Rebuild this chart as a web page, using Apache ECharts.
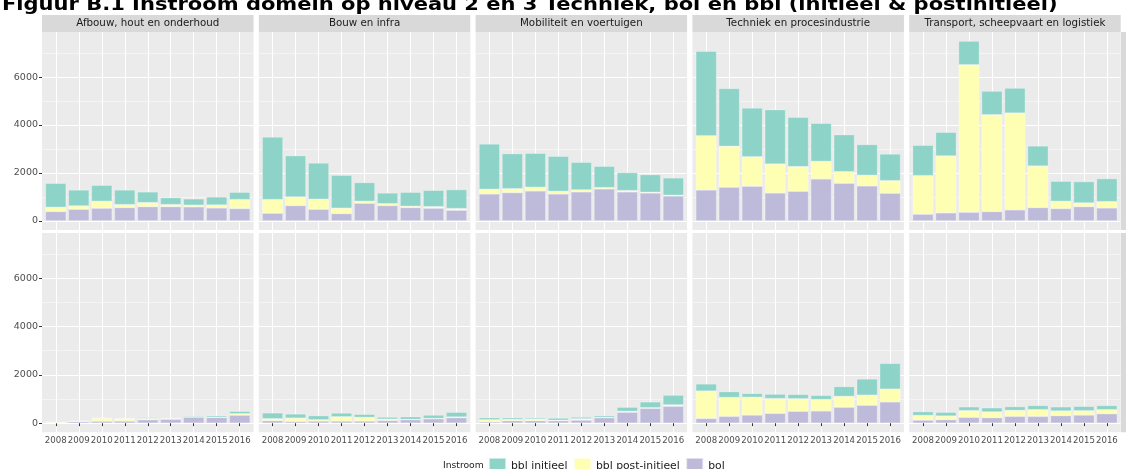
<!DOCTYPE html>
<html>
<head>
<meta charset="utf-8">
<script src="https://cdn.jsdelivr.net/npm/echarts@6/dist/echarts.min.js"></script>
<style>
html,body{margin:0;padding:0;background:#fff;}
#chart{width:1126px;height:469px;}
</style>
</head>
<body>
<div id="chart"></div>
<script>
const titleText = 'Figuur B.1 Instroom domein op niveau 2 en 3 Techniek, bol en bbl (initieel & postinitieel)';
const years = ['2008','2009','2010','2011','2012','2013','2014','2015','2016'];
const domains = ['Afbouw, hout en onderhoud','Bouw en infra','Mobiliteit en voertuigen','Techniek en procesindustrie','Transport, scheepvaart en logistiek'];
const seriesNames = ['bol','bbl post-initieel','bbl initieel'];
const legendOrder = ['bbl initieel','bbl post-initieel','bol'];
const seriesColors = ['#bebada','#ffffb3','#8dd3c7'];
const yTicks = [0,2000,4000,6000];
const yMinorTicks = [1000,3000,5000,7000];

// Top row (per domain, per year)
const bolRow1 = [
  [390,485,530,555,595,595,585,540,515],
  [320,640,485,305,735,640,555,530,445],
  [1125,1180,1250,1125,1210,1335,1210,1165,1040],
  [1290,1405,1445,1165,1235,1750,1570,1460,1155],
  [280,335,360,390,460,555,515,595,540]
];
const postRow1 = [
  [180,140,290,125,170,85,70,125,375],
  [570,360,420,225,85,80,55,65,70],
  [195,165,155,110,85,55,55,30,30],
  [2265,1705,1235,1210,1030,735,485,445,525],
  [1610,2375,6155,4040,4040,1735,305,155,265]
];
const initRow1 = [
  [1000,665,665,610,445,290,265,335,305],
  [2610,1720,1510,1375,780,445,585,680,790],
  [1890,1460,1415,1460,1150,890,750,735,725],
  [3525,2415,2030,2265,2055,1585,1540,1280,1110],
  [1265,985,985,985,1040,835,835,890,960]
];
// Bottom row
const bolRow2 = [
  [10,70,80,85,140,165,250,235,330],
  [100,70,85,85,85,110,140,180,225],
  [55,100,100,100,125,225,450,615,700],
  [195,280,335,405,490,505,660,740,880],
  [125,140,240,225,280,280,310,335,390]
];
const postRow2 = [
  [30,10,120,100,55,15,15,10,60],
  [85,140,55,180,155,55,15,15,30],
  [85,55,70,20,55,15,40,25,55],
  [1135,785,740,615,520,475,450,420,530],
  [195,155,280,240,250,280,195,180,170]
];
const initRow2 = [
  [5,5,20,20,40,20,45,60,100],
  [240,170,170,155,125,85,110,140,195],
  [85,70,55,90,70,70,170,240,405],
  [295,240,155,180,180,170,405,670,1065],
  [155,155,155,170,155,170,170,180,170]
];

const rows = [[bolRow1, postRow1, initRow1],[bolRow2, postRow2, initRow2]];

const panelLeft0 = 42, panelStep = 216.8, panelWidth = 211.5;
const rowTops = [32, 233], rowHeights = [198, 199.3];
const yMin = -380, yMax = 7880;
const xPositions = years.map((_, i) => i + 1);
const xMin = 0.4, xMax = 9.6; // ggplot discrete expansion 0.6
const font = '"DejaVu Sans", sans-serif';

const grid = [], xAxis = [], yAxis = [], series = [], graphic = [];
for (let r = 0; r < 2; r++) {
  for (let c = 0; c < 5; c++) {
    const left = panelLeft0 + c * panelStep;
    // background panel grid (grid lines, ticks, labels)
    const bgIndex = grid.length;
    grid.push({
      left: left, top: rowTops[r], width: panelWidth, height: rowHeights[r],
      show: true, backgroundColor: '#ebebeb', borderWidth: 0, containLabel: false, outerBoundsMode: 'none'
    });
    xAxis.push({
      type: 'value', gridIndex: bgIndex, min: xMin, max: xMax,
      axisLine: { show: false },
      axisTick: { show: r === 1, customValues: xPositions, length: 3, lineStyle: { color: '#333', width: 1 } },
      axisLabel: { show: r === 1, customValues: xPositions, formatter: v => years[Math.round(v) - 1], fontSize: 8.6, color: '#4d4d4d', margin: 3.5, fontFamily: font },
      splitLine: { show: true, lineStyle: { color: '#ffffff', width: 1 } }
    });
    yAxis.push({
      type: 'value', gridIndex: bgIndex, min: yMin, max: yMax,
      axisLine: { show: false },
      axisTick: { show: c === 0, customValues: yTicks, length: 3, lineStyle: { color: '#333', width: 1 } },
      axisLabel: { show: c === 0, customValues: yTicks, formatter: v => String(v), fontSize: 9.5, color: '#4d4d4d', margin: 4, fontFamily: font },
      splitLine: { show: true, lineStyle: { color: '#ffffff', width: 1 } }
    });
    // minor grid lines
    xAxis.push({
      type: 'value', gridIndex: bgIndex, min: xMin, max: xMax, show: false
    });
    yAxis.push({
      type: 'value', gridIndex: bgIndex, min: yMin, max: yMax, position: 'left',
      axisLine: { show: false },
      axisTick: { show: false, customValues: yMinorTicks },
      axisLabel: { show: false, customValues: yMinorTicks },
      splitLine: { show: true, lineStyle: { color: '#f8f8f8', width: 0.7 } }
    });
    // bar grid: category band spanning 0.5..9.5 of the panel range
    const barIndex = grid.length;
    grid.push({
      left: left + (0.5 - xMin) / (xMax - xMin) * panelWidth,
      top: rowTops[r],
      width: 9 / (xMax - xMin) * panelWidth,
      height: rowHeights[r],
      show: false, containLabel: false, outerBoundsMode: 'none'
    });
    const xi = xAxis.length, yi = yAxis.length;
    xAxis.push({
      type: 'category', gridIndex: barIndex, data: years, boundaryGap: true,
      axisLine: { show: false }, axisTick: { show: false }, axisLabel: { show: false }, splitLine: { show: false }
    });
    yAxis.push({
      type: 'value', gridIndex: barIndex, min: yMin, max: yMax,
      axisLine: { show: false }, axisTick: { show: false }, axisLabel: { show: false }, splitLine: { show: false }
    });
    for (let s = 0; s < 3; s++) {
      series.push({
        type: 'bar', name: seriesNames[s], xAxisIndex: xi, yAxisIndex: yi,
        stack: 'g' + barIndex, barWidth: '90%',
        data: rows[r][s][c],
        itemStyle: { color: seriesColors[s], borderColor: 'rgba(255,255,255,0.55)', borderWidth: 0.5 },
        emphasis: { disabled: true }, silent: true
      });
    }
  }
  // right row strip (cut off)
  graphic.push({ type: 'rect', shape: { x: 1121, y: rowTops[r], width: 10, height: rowHeights[r] }, style: { fill: '#d9d9d9' }, silent: true });
}
for (let c = 0; c < 5; c++) {
  const x = panelLeft0 + c * panelStep;
  graphic.push({ type: 'rect', shape: { x: x, y: 15, width: panelWidth, height: 17 }, style: { fill: '#d9d9d9' }, silent: true });
  graphic.push({ type: 'text', x: x + panelWidth / 2, y: 23.8, style: { text: domains[c], font: '10.3px ' + font, fill: '#1a1a1a', align: 'center', verticalAlign: 'middle' }, silent: true });
}
graphic.push({ type: 'text', x: 2, y: 5.4, scaleX: 1.236, style: { text: titleText, font: 'bold 17px ' + font, fill: '#000', align: 'left', verticalAlign: 'middle' }, silent: true });
graphic.push({ type: 'text', x: 443, y: 465.5, style: { text: 'Instroom', font: '9.2px ' + font, fill: '#1a1a1a', align: 'left', verticalAlign: 'middle' }, silent: true });

const chart = echarts.init(document.getElementById('chart'), null, { renderer: 'canvas' });
chart.setOption({
  animation: false,
  backgroundColor: '#ffffff',
  grid, xAxis, yAxis, series, graphic,
  legend: {
    data: legendOrder, left: 488, top: 457, padding: 0, itemWidth: 17, itemHeight: 17, itemGap: 5.5,
    icon: 'rect', selectedMode: false,
    textStyle: { fontSize: 10.8, color: '#1a1a1a', fontFamily: font }
  }
});
</script>
</body>
</html>
